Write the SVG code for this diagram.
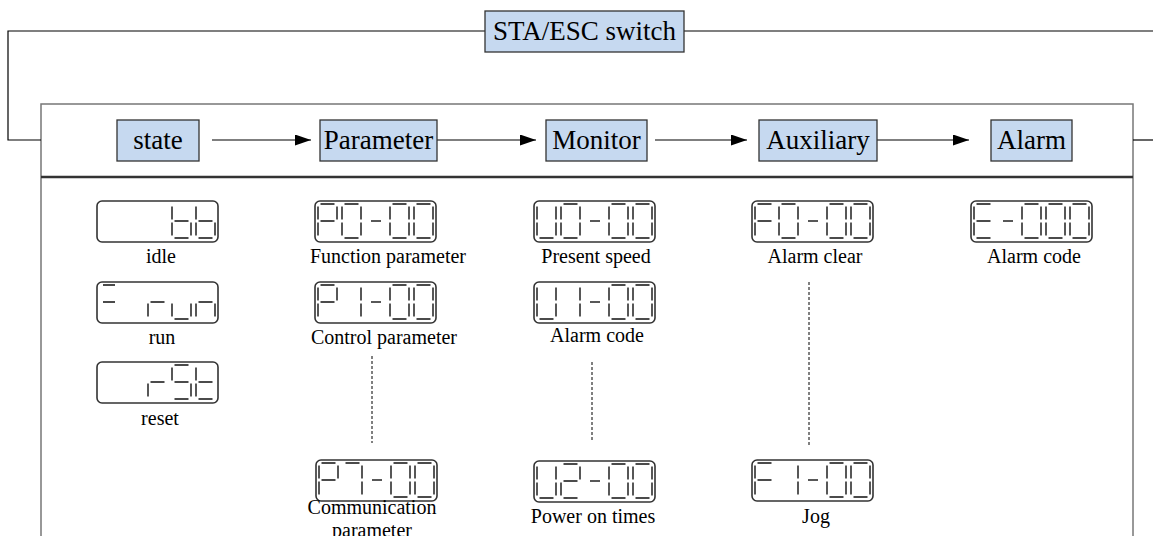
<svg xmlns="http://www.w3.org/2000/svg" width="1153" height="536" viewBox="0 0 1153 536">
<style>
.node{fill:#c6d9f0;stroke:#333;stroke-width:1.3}
.nt{font-family:"Liberation Serif","Times New Roman","DejaVu Serif",serif;font-size:27px;fill:#000;text-anchor:middle}
.lbl{font-family:"Liberation Serif","Times New Roman","DejaVu Serif",serif;font-size:20px;fill:#000;text-anchor:middle}
.disp{fill:#fff;stroke:#333;stroke-width:1.6}
.seg{fill:none;stroke:#111;stroke-width:1.4}
.ln{fill:none;stroke:#000;stroke-width:1.2}
.frame{fill:none;stroke:#777;stroke-width:1.5}
.dash{fill:none;stroke:#000;stroke-width:1;stroke-dasharray:3 2}
</style>
<defs>
<marker id="arr" markerWidth="16" markerHeight="11" refX="16" refY="5.5" orient="auto" markerUnits="userSpaceOnUse">
<path d="M0,0 L16,5.5 L0,11 Z" fill="#000"/>
</marker>
<path id="g0" class="seg" d="M2.5,0H16.5M19,2.5V15.5M19,18.5V31.5M2.5,34H16.5M0,18.5V31.5M0,2.5V15.5"/>
<path id="gP" class="seg" d="M2.5,0H16.5M19,2.5V15.5M0,2.5V15.5M2.5,17H16.5M0,18.5V31.5"/>
<path id="g1" class="seg" d="M19,2.5V15.5M19,18.5V31.5"/>
<path id="g7" class="seg" d="M2.5,0H16.5M19,2.5V15.5M19,18.5V31.5"/>
<path id="g2" class="seg" d="M2.5,0H16.5M19,2.5V15.5M2.5,17H16.5M0,18.5V31.5M2.5,34H16.5"/>
<path id="gU" class="seg" d="M0,2.5V15.5M0,18.5V31.5M2.5,34H16.5M19,18.5V31.5M19,2.5V15.5"/>
<path id="gF" class="seg" d="M2.5,0H16.5M0,2.5V15.5M2.5,17H16.5M0,18.5V31.5"/>
<path id="gE" class="seg" d="M2.5,0H16.5M0,2.5V15.5M2.5,17H16.5M0,18.5V31.5M2.5,34H16.5"/>
<path id="gd" class="seg" d="M5,17H15"/>
<path id="gb" class="seg" d="M0,2.5V15.5M0,18.5V31.5M2.5,34H16.5M19,18.5V31.5M2.5,17H16.5"/>
<path id="gr" class="seg" d="M2.5,17H16.5M0,18.5V31.5"/>
<path id="gu" class="seg" d="M0,18.5V31.5M2.5,34H16.5M19,18.5V31.5"/>
<path id="gn" class="seg" d="M2.5,17H16.5M0,18.5V31.5M19,18.5V31.5"/>
<path id="gS" class="seg" d="M2.5,0H16.5M0,2.5V15.5M2.5,17H16.5M19,18.5V31.5M2.5,34H16.5"/>
<path id="gt" class="seg" d="M0,2.5V15.5M0,18.5V31.5M2.5,17H16.5M2.5,34H16.5"/>
<path id="geq" class="seg" d="M3,0H15M3,17H15"/>
</defs>

<g id="frame">
<rect class="frame" x="41" y="104" width="1092" height="440"/>
<line x1="41" y1="177" x2="1133" y2="177" stroke="#333" stroke-width="2.5"/>
</g>

<g id="connectors">
<polyline class="ln" points="41,140 8,140 8,31 485,31"/>
<line class="ln" x1="684" y1="31" x2="1153" y2="31"/>
<line class="ln" x1="1133" y1="140" x2="1153" y2="140"/>
<line class="ln" x1="212" y1="140" x2="311" y2="140" marker-end="url(#arr)"/>
<line class="ln" x1="437" y1="140" x2="536" y2="140" marker-end="url(#arr)"/>
<line class="ln" x1="655" y1="140" x2="747" y2="140" marker-end="url(#arr)"/>
<line class="ln" x1="877" y1="140" x2="969" y2="140" marker-end="url(#arr)"/>
<line class="dash" x1="372" y1="356" x2="372" y2="443"/>
<line class="dash" x1="592" y1="362" x2="592" y2="440"/>
<line class="dash" x1="809" y1="282" x2="809" y2="445"/>
</g>

<g id="node-switch"><rect class="node" x="485" y="11" width="199" height="41"/><text class="nt" x="584.5" y="40">STA/ESC switch</text></g>
<g id="node-state"><rect class="node" x="117" y="120" width="82" height="41"/><text class="nt" x="158" y="149">state</text></g>
<g id="node-parameter"><rect class="node" x="320" y="120" width="117" height="41"/><text class="nt" x="378.5" y="149">Parameter</text></g>
<g id="node-monitor"><rect class="node" x="546" y="120" width="101" height="41"/><text class="nt" x="596.5" y="149">Monitor</text></g>
<g id="node-auxiliary"><rect class="node" x="759" y="120" width="118" height="41"/><text class="nt" x="818" y="149">Auxiliary</text></g>
<g id="node-alarm"><rect class="node" x="991" y="120" width="81" height="41"/><text class="nt" x="1031.5" y="149">Alarm</text></g>

<g id="disp-idle">
<rect class="disp" x="97" y="201" width="121" height="41" rx="5"/>
<use href="#gb" x="172" y="204"/><use href="#gb" x="196" y="204"/>
<text class="lbl" x="161" y="263">idle</text>
</g>
<g id="disp-run">
<rect class="disp" x="97" y="282" width="121" height="41" rx="5"/>
<use href="#geq" x="100" y="285"/><use href="#gr" x="148" y="285"/><use href="#gu" x="172" y="285"/><use href="#gn" x="196" y="285"/>
<text class="lbl" x="162" y="344">run</text>
</g>
<g id="disp-reset">
<rect class="disp" x="97" y="362" width="121" height="41" rx="5"/>
<use href="#gr" x="148" y="365"/><use href="#gS" x="172" y="365"/><use href="#gt" x="196" y="365"/>
<text class="lbl" x="160" y="425">reset</text>
</g>

<g id="disp-p0">
<rect class="disp" x="315" y="201" width="121" height="41" rx="5"/>
<use href="#gP" x="318" y="204"/><use href="#g0" x="342" y="204"/><use href="#gd" x="366" y="204"/><use href="#g0" x="390" y="204"/><use href="#g0" x="414" y="204"/>
<text class="lbl" x="388" y="263">Function parameter</text>
</g>
<g id="disp-p1">
<rect class="disp" x="315" y="282" width="121" height="41" rx="5"/>
<use href="#gP" x="318" y="285"/><use href="#g1" x="342" y="285"/><use href="#gd" x="366" y="285"/><use href="#g0" x="390" y="285"/><use href="#g0" x="414" y="285"/>
<text class="lbl" x="384" y="344">Control parameter</text>
</g>
<g id="disp-p7">
<rect class="disp" x="316" y="460" width="121" height="41" rx="5"/>
<use href="#gP" x="319" y="463"/><use href="#g7" x="343" y="463"/><use href="#gd" x="367" y="463"/><use href="#g0" x="391" y="463"/><use href="#g0" x="415" y="463"/>
<text class="lbl" x="372" y="514">Communication</text>
<text class="lbl" x="372" y="537">parameter</text>
</g>

<g id="disp-u0">
<rect class="disp" x="534" y="201" width="121" height="41" rx="5"/>
<use href="#gU" x="537" y="204"/><use href="#g0" x="561" y="204"/><use href="#gd" x="585" y="204"/><use href="#g0" x="609" y="204"/><use href="#g0" x="633" y="204"/>
<text class="lbl" x="596" y="263">Present speed</text>
</g>
<g id="disp-u1">
<rect class="disp" x="534" y="282" width="121" height="41" rx="5"/>
<use href="#gU" x="537" y="285"/><use href="#g1" x="561" y="285"/><use href="#gd" x="585" y="285"/><use href="#g0" x="609" y="285"/><use href="#g0" x="633" y="285"/>
<text class="lbl" x="597" y="342">Alarm code</text>
</g>
<g id="disp-u2">
<rect class="disp" x="534" y="461" width="121" height="41" rx="5"/>
<use href="#gU" x="537" y="464"/><use href="#g2" x="561" y="464"/><use href="#gd" x="585" y="464"/><use href="#g0" x="609" y="464"/><use href="#g0" x="633" y="464"/>
<text class="lbl" x="593" y="523">Power on times</text>
</g>

<g id="disp-f0">
<rect class="disp" x="752" y="201" width="121" height="41" rx="5"/>
<use href="#gF" x="755" y="204"/><use href="#g0" x="779" y="204"/><use href="#gd" x="803" y="204"/><use href="#g0" x="827" y="204"/><use href="#g0" x="851" y="204"/>
<text class="lbl" x="815" y="263">Alarm clear</text>
</g>
<g id="disp-f1">
<rect class="disp" x="752" y="460" width="121" height="41" rx="5"/>
<use href="#gF" x="755" y="463"/><use href="#g1" x="779" y="463"/><use href="#gd" x="803" y="463"/><use href="#g0" x="827" y="463"/><use href="#g0" x="851" y="463"/>
<text class="lbl" x="816" y="523">Jog</text>
</g>

<g id="disp-e">
<rect class="disp" x="971" y="201" width="121" height="41" rx="5"/>
<use href="#gE" x="974" y="204"/><use href="#gd" x="998" y="204"/><use href="#g0" x="1022" y="204"/><use href="#g0" x="1046" y="204"/><use href="#g0" x="1070" y="204"/>
<text class="lbl" x="1034" y="263">Alarm code</text>
</g>
</svg>
